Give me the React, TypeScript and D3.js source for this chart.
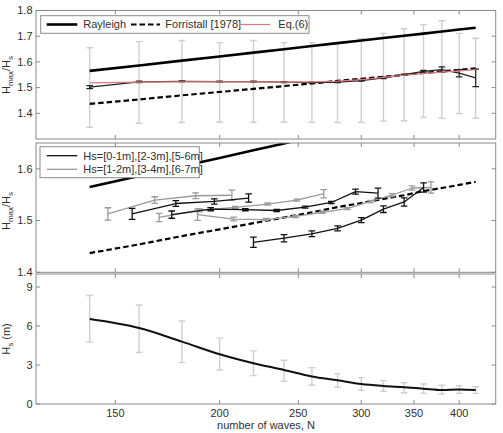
import React, { useEffect, useRef } from "react";
import * as d3 from "d3";

const W = 503;
const H = 433;
const FONT = "'Liberation Sans', Arial, sans-serif";

// x axis is log(N - 20)
const N_SHIFT = 20;
const N_TICKS = [150, 200, 250, 300, 350, 400];

// top panel: all records
const N_GRID = [140, 160, 180, 200, 220, 240, 260, 280, 300, 320, 340, 360, 380, 400, 420];
const RAYLEIGH = [1.565, 1.586, 1.605, 1.621, 1.636, 1.649, 1.662, 1.673, 1.683, 1.693, 1.702, 1.71, 1.718, 1.726, 1.733];
const FORRISTALL = [1.437, 1.454, 1.47, 1.483, 1.495, 1.506, 1.516, 1.526, 1.534, 1.542, 1.549, 1.557, 1.563, 1.569, 1.575];
const EQ6 = [1.518, 1.521, 1.522, 1.522, 1.522, 1.521, 1.522, 1.525, 1.531, 1.54, 1.548, 1.555, 1.56, 1.565, 1.57];
const RATIO_MEAN = [1.502, 1.522, 1.524, 1.523, 1.523, 1.521, 1.519, 1.521, 1.527, 1.538, 1.55, 1.563, 1.57, 1.556, 1.538];
const RATIO_ERR = [0.006, 0.003, 0.002, 0.002, 0.002, 0.002, 0.002, 0.002, 0.002, 0.003, 0.003, 0.004, 0.011, 0.014, 0.034];
const RATIO_LOW = [1.346, 1.361, 1.364, 1.365, 1.365, 1.365, 1.365, 1.364, 1.364, 1.369, 1.371, 1.384, 1.381, 1.399, 1.381];
const RATIO_HIGH = [1.655, 1.679, 1.683, 1.675, 1.683, 1.675, 1.675, 1.675, 1.69, 1.711, 1.729, 1.745, 1.76, 1.711, 1.692];

// middle panel: per Hs class
const N_HS01 = [220, 240, 260, 280, 300, 320, 340, 360];
const R_HS01 = [1.458, 1.466, 1.4745, 1.485, 1.501, 1.522, 1.536, 1.564];
const E_HS01 = [0.01, 0.007, 0.0057, 0.0048, 0.0048, 0.0064, 0.008, 0.009];
const N_HS12 = [188, 208, 228, 248, 268, 288, 308, 328, 348, 368];
const R_HS12 = [1.5115, 1.503, 1.502, 1.508, 1.516, 1.523, 1.537, 1.549, 1.563, 1.564];
const E_HS12 = [0.011, 0.0035, 0.002, 0.002, 0.002, 0.002, 0.002, 0.003, 0.004, 0.011];
const N_HS23 = [175, 195, 215, 235, 255, 275, 295, 315];
const R_HS23 = [1.5115, 1.522, 1.521, 1.5195, 1.526, 1.535, 1.556, 1.553];
const E_HS23 = [0.007, 0.003, 0.002, 0.002, 0.002, 0.002, 0.005, 0.0096];
const N_HS34 = [169, 189, 209, 229, 249, 269];
const R_HS34 = [1.506, 1.52, 1.5255, 1.532, 1.5395, 1.552];
const E_HS34 = [0.008, 0.003, 0.002, 0.002, 0.002, 0.008];
const N_HS56 = [157, 177, 197, 217];
const R_HS56 = [1.513, 1.533, 1.537, 1.5435];
const E_HS56 = [0.0105, 0.0055, 0.005, 0.008];
const N_HS67 = [147, 167, 187, 207];
const R_HS67 = [1.5128, 1.5397, 1.548, 1.549];
const E_HS67 = [0.012, 0.0064, 0.0057, 0.0099];

// bottom panel: Hs vs N
const HS_MEAN = [6.53, 5.84, 4.8, 3.83, 3.14, 2.62, 2.11, 1.82, 1.54, 1.39, 1.29, 1.18, 1.07, 1.12, 1.08];
const HS_LOW = [4.76, 3.96, 3.18, 2.62, 2.18, 1.75, 1.44, 1.29, 1.06, 0.98, 0.87, 0.82, 0.77, 0.82, 0.82];
const HS_HIGH = [8.35, 7.61, 6.38, 5.07, 4.09, 3.37, 2.8, 2.34, 2.03, 1.8, 1.64, 1.54, 1.44, 1.41, 1.33];

const LEFT = 36;
const RIGHT = 495.7;
const AXIS_GREY = "#8a8a8a";
const TEXT = "#303030";
const SPREAD = "#cfcfcf";
const MID_GREY = "#9a9a9a";

const App = () => {
  const ref = useRef<SVGSVGElement>(null);

  useEffect(() => {
    const svg = d3.select(ref.current);
    svg.selectAll("*").remove();
    svg.style("font-family", FONT);

    const xLog = d3.scaleLog().domain([101.5, 425.8]).range([LEFT, RIGHT]);
    const x = (n: number) => xLog(n - N_SHIFT);

    const panels = [
      { id: "p1", top: 10.5, bottom: 139, domain: [1.3, 1.8], ticks: [1.4, 1.5, 1.6, 1.7, 1.8] },
      { id: "p2", top: 143, bottom: 272.3, domain: [1.4, 1.65], ticks: [1.4, 1.5, 1.6] },
      { id: "p3", top: 274, bottom: 404, domain: [0, 10], ticks: [0, 3, 6, 9] },
    ];

    const ys = panels.map((p) => d3.scaleLinear().domain(p.domain).range([p.bottom, p.top]));

    const defs = svg.append("defs");
    panels.forEach((p) => {
      defs
        .append("clipPath")
        .attr("id", `clip-${p.id}`)
        .append("rect")
        .attr("x", LEFT)
        .attr("y", p.top)
        .attr("width", RIGHT - LEFT)
        .attr("height", p.bottom - p.top);
    });

    svg.append("rect").attr("width", W).attr("height", H).attr("fill", "#fff");

    const errorBars = (
      g: any,
      ns: number[],
      lo: number[],
      hi: number[],
      y: d3.ScaleLinear<number, number>,
      color: string,
      width: number,
    ) => {
      const cap = 3.3;
      ns.forEach((n, i) => {
        const cx = x(n);
        const y0 = y(lo[i]);
        const y1 = y(hi[i]);
        const eb = g.append("g").attr("stroke", color).attr("stroke-width", width).attr("fill", "none");
        eb.append("line").attr("x1", cx).attr("x2", cx).attr("y1", y0).attr("y2", y1);
        eb.append("line").attr("x1", cx - cap).attr("x2", cx + cap).attr("y1", y0).attr("y2", y0);
        eb.append("line").attr("x1", cx - cap).attr("x2", cx + cap).attr("y1", y1).attr("y2", y1);
      });
    };

    const path = (
      g: any,
      ns: number[],
      vs: number[],
      y: d3.ScaleLinear<number, number>,
      color: string,
      width: number,
      dash?: string,
      curve: d3.CurveFactory = d3.curveLinear,
    ) => {
      const line = d3
        .line<number>()
        .x((_, i) => x(ns[i]))
        .y((v) => y(v))
        .curve(curve);
      g.append("path")
        .datum(vs)
        .attr("fill", "none")
        .attr("stroke", color)
        .attr("stroke-width", width)
        .attr("stroke-dasharray", dash ?? null)
        .attr("stroke-linejoin", "round")
        .attr("d", line);
    };

    const layers = panels.map((p) => svg.append("g").attr("clip-path", `url(#clip-${p.id})`));

    // panel 1
    {
      const g = layers[0];
      const y = ys[0];
      errorBars(g, N_GRID, RATIO_LOW, RATIO_HIGH, y, SPREAD, 1.4);
      path(g, N_GRID, RAYLEIGH, y, "#000", 2.6);
      path(g, N_GRID, FORRISTALL, y, "#000", 2.2, "5.5,3");
      path(g, N_GRID, RATIO_MEAN, y, "#222", 1.3);
      errorBars(
        g,
        N_GRID,
        RATIO_MEAN.map((v, i) => v - RATIO_ERR[i]),
        RATIO_MEAN.map((v, i) => v + RATIO_ERR[i]),
        y,
        "#222",
        1.2,
      );
      path(g, N_GRID, EQ6, y, "#e07a7a", 1.2);
    }

    // panel 2
    {
      const g = layers[1];
      const y = ys[1];
      path(g, N_GRID, RAYLEIGH, y, "#000", 2.6);
      path(g, N_GRID, FORRISTALL, y, "#000", 2.2, "5.5,3");
      const classes = [
        { n: N_HS67, r: R_HS67, e: E_HS67, c: MID_GREY },
        { n: N_HS34, r: R_HS34, e: E_HS34, c: MID_GREY },
        { n: N_HS12, r: R_HS12, e: E_HS12, c: MID_GREY },
        { n: N_HS56, r: R_HS56, e: E_HS56, c: "#111" },
        { n: N_HS23, r: R_HS23, e: E_HS23, c: "#111" },
        { n: N_HS01, r: R_HS01, e: E_HS01, c: "#111" },
      ];
      classes.forEach((s) => {
        path(g, s.n, s.r, y, s.c, 1.3);
        errorBars(
          g,
          s.n,
          s.r.map((v, i) => v - s.e[i]),
          s.r.map((v, i) => v + s.e[i]),
          y,
          s.c,
          1.3,
        );
      });
    }

    // panel 3
    {
      const g = layers[2];
      const y = ys[2];
      errorBars(g, N_GRID, HS_LOW, HS_HIGH, y, SPREAD, 1.4);
      path(g, N_GRID, HS_MEAN, y, "#111", 2, undefined, d3.curveMonotoneX);
    }

    // frames and ticks
    panels.forEach((p, k) => {
      const y = ys[k];
      const g = svg.append("g").attr("stroke", AXIS_GREY).attr("fill", "none");
      g.append("rect")
        .attr("x", LEFT)
        .attr("y", p.top)
        .attr("width", RIGHT - LEFT)
        .attr("height", p.bottom - p.top)
        .attr("stroke-width", 1);
      N_TICKS.forEach((n) => {
        const tx = x(n);
        g.append("line").attr("x1", tx).attr("x2", tx).attr("y1", p.top).attr("y2", p.top + 4);
        g.append("line").attr("x1", tx).attr("x2", tx).attr("y1", p.bottom).attr("y2", p.bottom - 4);
      });
      p.ticks.forEach((t) => {
        const ty = y(t);
        g.append("line").attr("x1", LEFT).attr("x2", LEFT + 4).attr("y1", ty).attr("y2", ty);
        g.append("line").attr("x1", RIGHT).attr("x2", RIGHT - 4).attr("y1", ty).attr("y2", ty);
        svg
          .append("text")
          .attr("x", LEFT - 3.5)
          .attr("y", ty)
          .attr("dy", "0.35em")
          .attr("text-anchor", "end")
          .attr("font-size", 11)
          .attr("fill", TEXT)
          .text(k === 2 ? d3.format("d")(t) : d3.format(".1f")(t));
      });
    });

    // x tick labels and title
    N_TICKS.forEach((n) => {
      svg
        .append("text")
        .attr("x", x(n))
        .attr("y", 416.5)
        .attr("text-anchor", "middle")
        .attr("font-size", 11)
        .attr("fill", TEXT)
        .text(n);
    });
    svg
      .append("text")
      .attr("x", 266)
      .attr("y", 429)
      .attr("text-anchor", "middle")
      .attr("font-size", 11)
      .attr("fill", TEXT)
      .text("number of waves, N");

    // y titles
    const ratioLabel = (cy: number) => {
      const t = svg
        .append("text")
        .attr("transform", `translate(10,${cy}) rotate(-90)`)
        .attr("text-anchor", "middle")
        .attr("font-size", 11)
        .attr("fill", TEXT);
      t.append("tspan").text("H");
      t.append("tspan").attr("font-size", 8).attr("dy", 3).text("max");
      t.append("tspan").attr("dy", -3).text("/H");
      t.append("tspan").attr("font-size", 8).attr("dy", 3).text("s");
    };
    ratioLabel(75);
    ratioLabel(211);
    {
      const t = svg
        .append("text")
        .attr("transform", `translate(10,339) rotate(-90)`)
        .attr("text-anchor", "middle")
        .attr("font-size", 11)
        .attr("fill", TEXT);
      t.append("tspan").text("H");
      t.append("tspan").attr("font-size", 8).attr("dy", 3).text("s");
      t.append("tspan").attr("dy", -3).text(" (m)");
    }

    // legend, top panel
    {
      const g = svg.append("g");
      g.append("rect")
        .attr("x", 40.7)
        .attr("y", 15.7)
        .attr("width", 268.3)
        .attr("height", 17.6)
        .attr("fill", "#fff")
        .attr("stroke", AXIS_GREY);
      const ly = 24.5;
      const items = [
        { x0: 46.7, x1: 77.3, tx: 83.3, label: "Rayleigh", color: "#000", w: 2.6, dash: null },
        { x0: 131, x1: 160, tx: 165.3, label: "Forristall [1978]", color: "#000", w: 2.2, dash: "5.5,3" },
        { x0: 240, x1: 270, tx: 278.3, label: "Eq.(6)", color: "#e07a7a", w: 1.2, dash: null },
      ];
      items.forEach((it) => {
        g.append("line")
          .attr("x1", it.x0)
          .attr("x2", it.x1)
          .attr("y1", ly)
          .attr("y2", ly)
          .attr("stroke", it.color)
          .attr("stroke-width", it.w)
          .attr("stroke-dasharray", it.dash);
        g.append("text")
          .attr("x", it.tx)
          .attr("y", ly)
          .attr("dy", "0.35em")
          .attr("font-size", 11)
          .attr("fill", TEXT)
          .text(it.label);
      });
    }

    // legend, middle panel
    {
      const g = svg.append("g");
      g.append("rect")
        .attr("x", 40)
        .attr("y", 146.7)
        .attr("width", 159.3)
        .attr("height", 31)
        .attr("fill", "#fff")
        .attr("stroke", AXIS_GREY);
      const items = [
        { ly: 155.7, label: "Hs=[0-1m],[2-3m],[5-6m]", color: "#111" },
        { ly: 169.3, label: "Hs=[1-2m],[3-4m],[6-7m]", color: MID_GREY },
      ];
      items.forEach((it) => {
        g.append("line")
          .attr("x1", 46.7)
          .attr("x2", 77.3)
          .attr("y1", it.ly)
          .attr("y2", it.ly)
          .attr("stroke", it.color)
          .attr("stroke-width", 1.3);
        g.append("text")
          .attr("x", 83.3)
          .attr("y", it.ly)
          .attr("dy", "0.35em")
          .attr("font-size", 11)
          .attr("fill", TEXT)
          .text(it.label);
      });
    }
  }, []);

  return (
    <svg
      ref={ref}
      width={W}
      height={H}
      style={{ position: "absolute", left: 0, top: 0, display: "block" }}
    />
  );
};

export default App;
